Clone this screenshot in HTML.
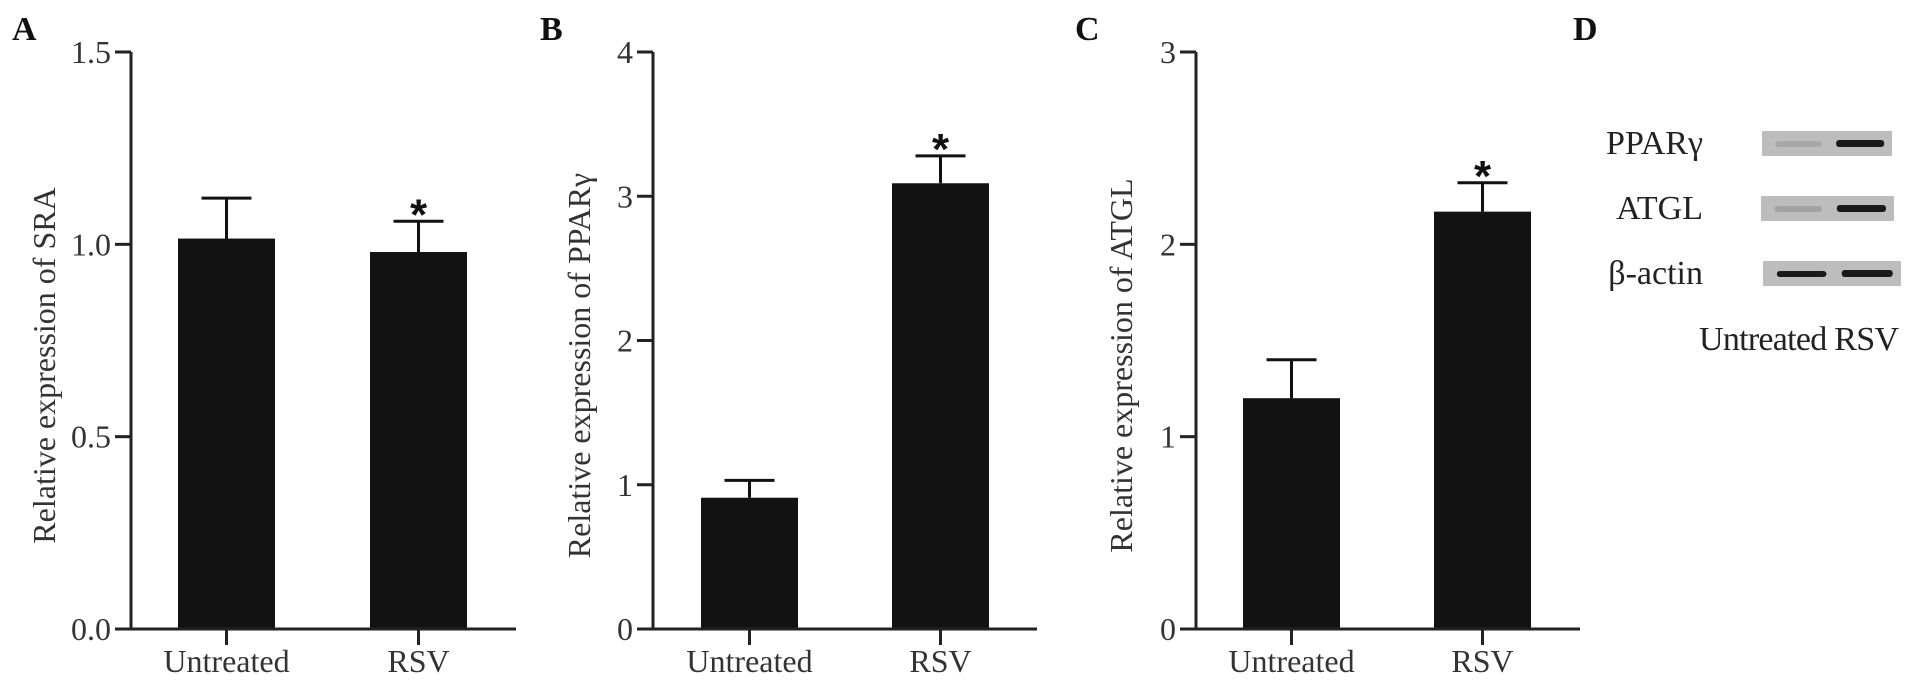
<!DOCTYPE html>
<html><head><meta charset="utf-8"><style>
html,body{margin:0;padding:0;background:#fff;}
svg{display:block;font-family:"Liberation Serif",serif;}
</style></head><body>
<svg id="fig" width="1913" height="686" viewBox="0 0 1913 686"></svg>
<script>
const categories = ["Untreated", "RSV"];
const sraValues = [1.015, 0.98];
const sraErrors = [0.105, 0.08];
const pparValues = [0.91, 3.09];
const pparErrors = [0.12, 0.19];
const atglValues = [1.20, 2.17];
const atglErrors = [0.20, 0.15];
const sraTicks = ["0.0", "0.5", "1.0", "1.5"];
const pparTicks = ["0", "1", "2", "3", "4"];
const atglTicks = ["0", "1", "2", "3"];
const sigFlags = [false, true];

const NS = "http://www.w3.org/2000/svg";
const svg = document.getElementById("fig");
function mk(tag, attrs, parent) {
  const e = document.createElementNS(NS, tag);
  for (const k in attrs) e.setAttribute(k, attrs[k]);
  (parent || svg).appendChild(e);
  return e;
}
const panels = [
  {id:"a", letter:"A", lx:12, ax:131, bars:[178,370], end:516, y0:629, yt:52, max:1.5, step:0.5, ticks:sraTicks, vals:sraValues, errs:sraErrors, title:"Relative expression of SRA", tx:45},
  {id:"b", letter:"B", lx:540, ax:653, bars:[701,892], end:1037, y0:629, yt:52, max:4, step:1, ticks:pparTicks, vals:pparValues, errs:pparErrors, title:"Relative expression of PPARγ", tx:580},
  {id:"c", letter:"C", lx:1075, ax:1196, bars:[1243,1434], end:1580, y0:629, yt:52, max:3, step:1, ticks:atglTicks, vals:atglValues, errs:atglErrors, title:"Relative expression of ATGL", tx:1122}
];
const BW = 97;
panels.forEach(p => {
  const g = mk("g", {});
  
  
  const Y0 = p.y0, YT = p.yt;
  const y = v => Y0 - (v / p.max) * (Y0 - YT);
  const L = mk("text", {x:p.lx, y:40, "font-size":34, "font-weight":"bold", fill:"#111"}, g);
  L.textContent = p.letter;
  
  
  p.vals.forEach((v, i) => {
    const bx = p.bars[i], cx = bx + BW/2;
    const b = mk("rect", {x:bx, y:y(v), width:BW, height:Y0 - y(v), fill:"#121212"}, g);
    
    
    const et = y(v + p.errs[i]);
    const eb = mk("path", {d:`M${cx} ${y(v)}V${et}M${cx-25} ${et}H${cx+25}`, stroke:"#111", "stroke-width":3, fill:"none"}, g);
    
    
    if (sigFlags[i]) {
      const s = mk("text", {x:cx, y:et + 8, "font-size":44, "font-weight":"bold", "text-anchor":"middle", fill:"#111", "font-family":"Liberation Sans, sans-serif"}, g);
      s.textContent = "*";
      
      
    }
    mk("line", {x1:cx, x2:cx, y1:Y0, y2:Y0+16, stroke:"#222", "stroke-width":3}, g);
    const cl = mk("text", {x:cx, y:Y0+43, "font-size":32, "text-anchor":"middle", fill:"#333"}, g);
    cl.textContent = categories[i];
    
    
  });
  const ax = mk("path", {d:`M${p.ax} ${YT}V${Y0}H${p.end}`, stroke:"#222", "stroke-width":3, fill:"none"}, g);
  
  
  p.ticks.forEach((tl, i) => {
    const ty = y(i * p.step);
    mk("line", {x1:p.ax-16, x2:p.ax, y1:ty, y2:ty, stroke:"#222", "stroke-width":3}, g);
    const tt = mk("text", {x:p.ax-20, y:ty+11, "font-size":32, "text-anchor":"end", fill:"#333"}, g);
    tt.textContent = tl;
    
    
  });
  const yt = mk("text", {x:0, y:0, "font-size":32, "text-anchor":"middle", fill:"#333", transform:`translate(${p.tx+10},${(Y0+YT)/2 + 25}) rotate(-90)`}, g);
  yt.textContent = p.title;
  
  
});

const gd = mk("g", {});


const D = mk("text", {x:1573, y:40, "font-size":34, "font-weight":"bold", fill:"#111"}, gd);
D.textContent = "D";


const blotNames = ["PPARγ", "ATGL", "β-actin"];
const blotY = [131, 196, 261];
const blotX = [[1762,1892],[1761,1894],[1763,1901]];
const bandA = [0.12, 0.15, 0.95];
const bandB = [0.95, 0.95, 0.95];
blotNames.forEach((n, i) => {
  const [x1, x2] = blotX[i], yy = blotY[i];
  const r = mk("rect", {x:x1, y:yy, width:x2-x1, height:25, fill:"#bdbdbd"}, gd);
  
  
  const w = x2 - x1;
  mk("rect", {x:x1 + w*0.1, y:yy+10, width:w*0.36, height:6, rx:3, fill:"#111", opacity:bandA[i]}, gd);
  mk("rect", {x:x1 + w*0.57, y:yy+9, width:w*0.37, height:7, rx:3, fill:"#111", opacity:bandB[i]}, gd);
  const t = mk("text", {x:1703, y:yy+23, "font-size":34, "text-anchor":"end", fill:"#222"}, gd);
  t.textContent = n;
  
  
});
const bl = mk("text", {x:1699, y:350, "font-size":34, fill:"#222", textLength:200}, gd);
bl.textContent = "Untreated RSV";


</script>
</body></html>
